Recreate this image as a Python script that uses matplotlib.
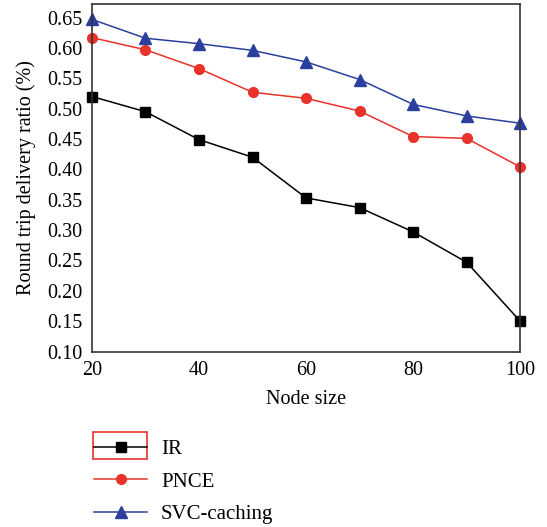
import matplotlib
matplotlib.use("Agg")
import matplotlib.pyplot as plt
from matplotlib.patches import Rectangle

plt.rcParams['font.family'] = ['Liberation Serif', 'DejaVu Serif']

node_size = [20, 30, 40, 50, 60, 70, 80, 90, 100]
ir = [0.520, 0.495, 0.449, 0.420, 0.353, 0.337, 0.297, 0.247, 0.150]
pnce = [0.617, 0.597, 0.566, 0.527, 0.517, 0.496, 0.454, 0.451, 0.404]
svc = [0.647, 0.616, 0.607, 0.596, 0.577, 0.548, 0.507, 0.488, 0.476]

fig = plt.figure(figsize=(5.47, 5.27), dpi=100)
ax = fig.add_axes([0.168, 0.333, 0.783, 0.659])

l1, = ax.plot(node_size, ir, color='black', marker='s', markersize=7, lw=1.1, label='IR', clip_on=False)
l2, = ax.plot(node_size, pnce, color='#e8322a', marker='o', markersize=7, lw=1.1, label='PNCE', clip_on=False)
l3, = ax.plot(node_size, svc, color='#2b3f9e', marker='^', markersize=8, lw=1.1, label='SVC-caching', clip_on=False)

ax.set_xlim(20, 100)
ax.set_ylim(0.10, 0.672)
ax.set_xticks([20, 40, 60, 80, 100])
ax.set_yticks([0.10, 0.15, 0.20, 0.25, 0.30, 0.35, 0.40, 0.45, 0.50, 0.55, 0.60, 0.65])
ax.set_yticklabels(['%.2f' % v for v in ax.get_yticks()])
ax.tick_params(labelsize=14.5, length=0, pad=7)
for s in ax.spines.values():
    s.set_color('#333333')
    s.set_linewidth(1.2)
ax.set_xlabel('Node size', fontsize=14.5, labelpad=7)
ax.set_ylabel('Round trip delivery ratio (%)', fontsize=14.5, labelpad=8)

leg = fig.legend(handles=[l1, l2, l3], loc='upper left', bbox_to_anchor=(0.157, 0.182),
                 frameon=False, fontsize=15, handlelength=2.55, labelspacing=0.62,
                 handletextpad=0.65, borderaxespad=0)
fig.patches.append(Rectangle((93/547, 1-459/527), (147-93)/547, (459-432)/527,
                             transform=fig.transFigure, fill=False, edgecolor='#e8322a', lw=1.2))

fig.savefig('out.png', dpi=100)
